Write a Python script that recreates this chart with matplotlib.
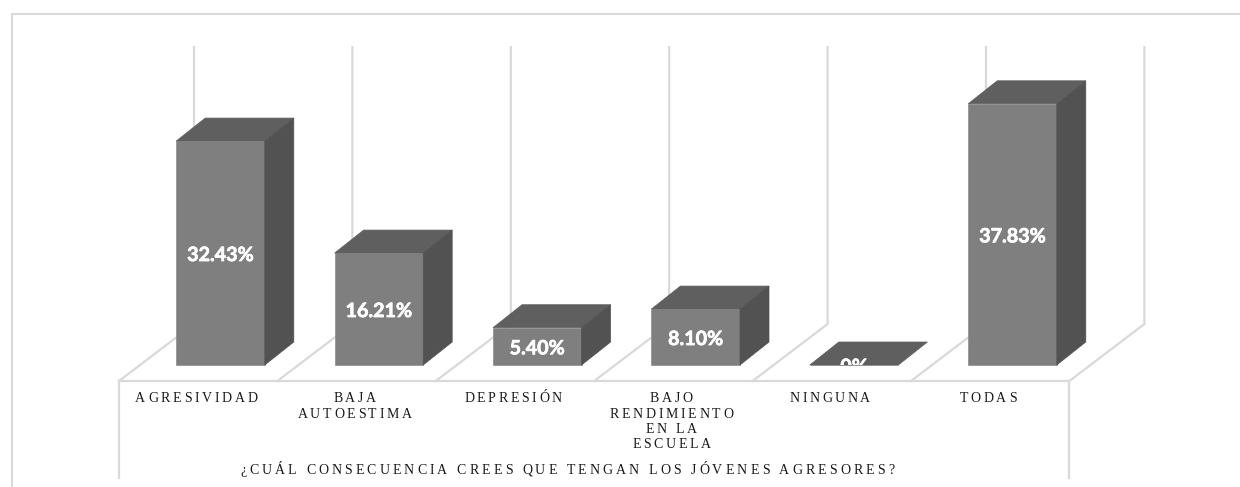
import matplotlib
matplotlib.use("Agg")
import matplotlib.pyplot as plt
import matplotlib.patheffects as pe
from matplotlib.text import Text
from matplotlib.transforms import IdentityTransform, Bbox, TransformedBbox
from matplotlib.font_manager import FontProperties, findfont, get_font
from matplotlib.ft2font import LoadFlags

categories = ["AGRESIVIDAD", "BAJA\nAUTOESTIMA", "DEPRESIÓN",
              "BAJO\nRENDIMIENTO\nEN LA\nESCUELA", "NINGUNA", "TODAS"]
values = [32.43, 16.21, 5.40, 8.10, 0.0, 37.83]
value_labels = ["32.43%", "16.21%", "5.40%", "8.10%", "0%", "37.83%"]
axis_title = "¿CUÁL CONSECUENCIA CREES QUE TENGAN LOS JÓVENES AGRESORES?"
wall_top = 46.05

W, H = 1240, 487
FRONT, SIDE, TOP, EDGE, GRID = "#7f7f7f", "#525252", "#5f5f5f", "#8c8c8c", "#d9d9d9"


class TrackedText(Text):
    """Text with letter spacing (pixels), centred line by line."""
    def __init__(self, *a, tracking=0, line_px=15.5, **k):
        super().__init__(*a, **k)
        self.tracking = tracking
        self.line_px = line_px

    def _advance(self, s):
        font = get_font(findfont(self.get_fontproperties()))
        font.set_size(self.get_fontsize(), self.get_figure(root=True).dpi)
        return [font.load_char(ord(c), flags=LoadFlags.NO_HINTING).linearHoriAdvance / 65536 + self.tracking
                for c in s]

    def _lines(self):
        x, y = self.get_transform().transform(self.get_unitless_position())
        for n, line in enumerate(self.get_text().split("\n")):
            adv = self._advance(line)
            yield line, adv, x - (sum(adv) - self.tracking) / 2, y - n * self.line_px

    def draw(self, renderer):
        for line, adv, px, py in self._lines():
            for c, a in zip(line, adv):
                if c != " ":
                    t = Text(px, py, c, transform=IdentityTransform(), color=self.get_color(),
                             fontproperties=self.get_fontproperties(), ha="left", va="baseline")
                    t.set_figure(self.get_figure(root=True))
                    t.draw(renderer)
                px += a

    def get_window_extent(self, renderer=None, dpi=None):
        boxes = []
        size = self.get_fontsize() * self.get_figure(root=True).dpi / 72
        for line, adv, px, py in self._lines():
            boxes.append(Bbox([[px, py - 0.22 * size], [px + sum(adv), py + 0.8 * size]]))
        return Bbox.union(boxes)


fig = plt.figure(figsize=(W / 100, H / 100), dpi=100, facecolor="white")
ax = fig.add_axes([0, 0, 1, 1])

# axis scale: one unit of x is a category pitch, y is percent
PX_CAT, PX_PCT = 158.4, 6.905
X0, Y0 = 220.5, 365
ax.set_xlim(-X0 / PX_CAT, (W - X0) / PX_CAT)
ax.set_ylim((Y0 - H) / PX_PCT, Y0 / PX_PCT)
ax.axis("off")

def px(dx):
    return dx / PX_CAT
def py(dy):
    return dy / PX_PCT

# Outer frame
ax.plot([px(11.5 - X0)] * 2 + [px(1240 - X0)], [py(Y0 - 487), py(Y0 - 14), py(Y0 - 14)],
        color=GRID, lw=1.5, solid_joinstyle="miter", zorder=1)

# Floor + walls
n = len(values)
fx, fy = px(119 - 141.3), py(-16)     # floor front offset from a cell edge
bx, by = px(194 - 141.3), py(41)      # floor back offset from a cell edge
ax.plot([-0.5 + fx, n - 0.5 + fx], [fy, fy], color=GRID, lw=1.6, zorder=1)
for i in range(n + 1):
    e = i - 0.5
    ax.plot([e + fx, e + bx, e + bx], [fy, by, wall_top], color=GRID, lw=1.6,
            solid_joinstyle="miter", zorder=1)
for e in (-0.5 + fx, n - 0.5 + fx):
    ax.plot([e, e], [fy, py(Y0 - 478)], color=GRID, lw=1.6, zorder=1)

# Bars
half = 44.3 / PX_CAT
dx, dy = px(29), py(23)
ax.bar(range(n), values, width=2 * half, color=FRONT, edgecolor=EDGE, linewidth=0.5, zorder=3)
for i, v in enumerate(values):
    l, r = i - half, i + half
    ax.fill([l, r, r + dx, l + dx], [v, v, v + dy, v + dy], color=TOP, lw=0.5, zorder=3)
    if v > 0:
        ax.fill([r, r + dx, r + dx, r], [0, dy, v + dy, v], color=SIDE, lw=0.5, zorder=3)

# Value labels
clip = TransformedBbox(Bbox([[-2, 0], [7, 60]]), ax.transData)
for i, (v, lab) in enumerate(zip(values, value_labels)):
    t = ax.text(i, v / 2 - py(2), lab, color="white", ha="center", va="center",
                family="Lato", fontweight="bold", fontsize=14.2, zorder=4)
    t.set_path_effects([pe.withStroke(linewidth=0.5, foreground="white")])
    t.set_clip_box(clip)
    t.set_clip_on(True)

# Category labels
font = FontProperties(family="Liberation Serif", size=10)
for i, c in enumerate(categories):
    t = TrackedText(i - 0.5 + fx + 0.5 - px(2), py(Y0 - 402), c, fontproperties=font, color="#1a1a1a",
                    transform=ax.transData, tracking=2.7)
    ax.add_artist(t)
t = TrackedText(px(567 - X0), py(Y0 - 474), axis_title, fontproperties=font, color="#1a1a1a",
                transform=ax.transData, tracking=3.1)
ax.add_artist(t)

fig.savefig("out.png", dpi=100, facecolor="white")
